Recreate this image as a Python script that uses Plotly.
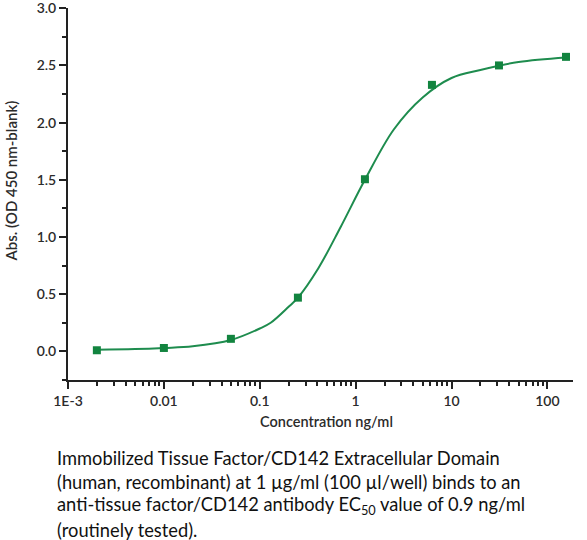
import plotly.graph_objects as go

# Measured data points
conc = [0.002, 0.01, 0.05, 0.25, 1.25, 6.25, 31.25, 156.25]
absorb = [0.01, 0.03, 0.11, 0.47, 1.505, 2.33, 2.50, 2.575]

# Fitted curve
fit_conc = [0.002, 0.005, 0.01, 0.02, 0.05, 0.1, 0.13, 0.2, 0.25, 0.41, 0.7, 1.25,
            2.5, 5, 10, 20, 50, 156.25]
fit_abs = [0.015, 0.02, 0.03, 0.045, 0.10, 0.20, 0.25, 0.39, 0.47, 0.73, 1.09, 1.50,
           1.94, 2.22, 2.39, 2.46, 2.53, 2.57]

x_tickvals = [0.001, 0.01, 0.1, 1, 10, 100]
x_ticktext = ["1E-3", "0.01", "0.1", "1", "10", "100"]
y_tickvals = [0.0, 0.5, 1.0, 1.5, 2.0, 2.5, 3.0]
y_ticktext = ["0.0", "0.5", "1.0", "1.5", "2.0", "2.5", "3.0"]

caption_lines = [
    "Immobilized Tissue Factor/CD142 Extracellular Domain",
    "(human, recombinant) at 1 µg/ml (100 µl/well) binds to an",
    "anti-tissue factor/CD142 antibody EC<sub>50</sub> value of 0.9 ng/ml",
    "(routinely tested).",
]

green_line = "#1e8c4e"
green_mark = "#12843f"
axis_col = "#222222"
text_col = "#2b2b2b"

minor_x = []
for dec in [0.001, 0.01, 0.1, 1, 10, 100]:
    for m in range(2, 10):
        v = dec * m
        if v < 185:
            minor_x.append(v)

# plot area in pixels
L, R, T, B = 68, 573, 8, 380
W, H = 587, 540


def px_x(x):
    return (x - L) / (R - L)


def px_y(y):
    return (B - y) / (B - T)


fig = go.Figure()
fig.add_trace(go.Scatter(x=fit_conc, y=fit_abs, mode="lines",
                         line=dict(color=green_line, width=2, shape="spline"),
                         hoverinfo="skip", showlegend=False))
fig.add_trace(go.Scatter(x=conc, y=absorb, mode="markers",
                         marker=dict(symbol="square", size=8, color=green_mark),
                         showlegend=False))

annotations = [
    dict(text="Concentration ng/ml", xref="paper", yref="paper",
         x=px_x(326.5), y=px_y(422), xanchor="center", yanchor="middle",
         showarrow=False,
         font=dict(size=14.5, family="Lato", weight=600, color=text_col)),
    dict(text="Abs. (OD 450 nm-blank)", xref="paper", yref="paper",
         x=px_x(10), y=px_y(181.5), xanchor="center", yanchor="middle",
         textangle=-90, showarrow=False,
         font=dict(size=15, family="Lato", weight=600, color=text_col)),
]
for i, line in enumerate(caption_lines):
    annotations.append(dict(
        text=line, xref="paper", yref="paper",
        x=px_x(55), y=px_y(458 + 24 * i), xanchor="left", yanchor="middle",
        align="left", showarrow=False,
        font=dict(size=18.3, family="Lato", color="#111111"),
    ))

fig.update_layout(
    width=W, height=H,
    margin=dict(l=L, r=W - R, t=T, b=H - B),
    paper_bgcolor="white", plot_bgcolor="white",
    font=dict(family="Lato", color=text_col),
    xaxis=dict(
        type="log", range=[-3, 2.267], automargin=False,
        tickmode="array", tickvals=x_tickvals, ticktext=x_ticktext,
        showgrid=False, zeroline=False, ticklabeloverflow="allow",
        showline=True, linecolor=axis_col, linewidth=2,
        ticks="outside", ticklen=7, tickwidth=2, tickcolor=axis_col,
        tickfont=dict(size=14, family="Lato", weight=600, color=text_col),
        minor=dict(tickmode="array", tickvals=minor_x, ticks="outside",
                   ticklen=4, tickwidth=1.5, tickcolor=axis_col, showgrid=False),
    ),
    yaxis=dict(
        range=[-0.25, 3.002], automargin=False,
        tickmode="array", tickvals=y_tickvals, ticktext=y_ticktext,
        showgrid=False, zeroline=False, ticklabeloverflow="allow",
        showline=True, linecolor=axis_col, linewidth=2,
        ticks="outside", ticklen=7, tickwidth=2, tickcolor=axis_col,
        tickfont=dict(size=14, family="Lato", weight=600, color=text_col),
        minor=dict(dtick=0.25, tick0=0, ticks="outside", ticklen=4, tickwidth=1.5,
                   tickcolor=axis_col, showgrid=False),
    ),
    annotations=annotations,
)

fig.write_html(
    "out.html",
    config={"displayModeBar": False},
    post_script="document.body.style.margin='0';document.body.style.overflow='hidden';",
)
